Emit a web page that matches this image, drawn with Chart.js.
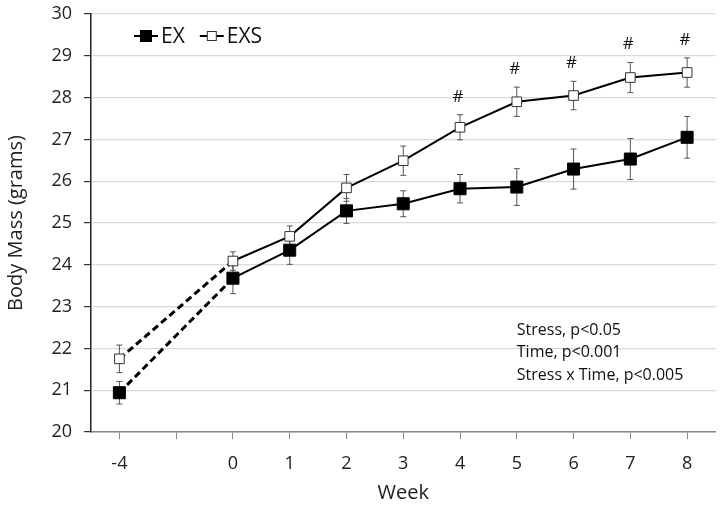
<!DOCTYPE html>
<html>
<head>
<meta charset="utf-8">
<script src="https://cdn.jsdelivr.net/npm/chart.js@4/dist/chart.umd.min.js"></script>
<style>
  html, body { margin: 0; padding: 0; background: #fff; }
  #wrap { width: 725px; height: 505px; }
</style>
</head>
<body>
<div id="wrap"><canvas id="c"></canvas></div>
<script>
// Week categories (empty slot keeps the gap between -4 and 0)
const weeks = ['-4', '', '0', '1', '2', '3', '4', '5', '6', '7', '8']
const exMass = [20.94, null, 23.68, 24.35, 25.29, 25.46, 25.82, 25.86, 26.29, 26.53, 27.05]
const exErr = [0.27, null, 0.37, 0.34, 0.30, 0.31, 0.34, 0.44, 0.48, 0.49, 0.50]
const exsMass = [21.75, null, 24.09, 24.68, 25.84, 26.49, 27.29, 27.90, 28.05, 28.48, 28.60]
const exsErr = [0.33, null, 0.22, 0.25, 0.32, 0.35, 0.30, 0.35, 0.34, 0.36, 0.35]
const sigMarks = ['', '', '', '', '', '', '#', '#', '#', '#', '#']
const yMin = 20
const yMax = 30
const statsText = ['Stress, p<0.05', 'Time, p<0.001', 'Stress x Time, p<0.005']

const FONT = "'Open Sans', sans-serif"

// dashed, thicker segment from week -4 to week 0 (spans the empty slot)
const isGapSeg = ctx => ctx.p1DataIndex <= 2
const segmentStyle = {
  borderDash: ctx => (isGapSeg(ctx) ? [7, 4] : undefined),
  borderWidth: ctx => (isGapSeg(ctx) ? 3 : 2),
}

const errorBars = {
  id: 'errorBars',
  beforeDatasetsDraw(chart) {
    const { ctx, scales: { x, y } } = chart
    const errs = [exErr, exsErr]
    ctx.save()
    ctx.strokeStyle = '#555'
    ctx.lineWidth = 1
    chart.data.datasets.forEach((ds, i) => {
      ds.data.forEach((v, j) => {
        const e = errs[i][j]
        if (v == null || e == null) return
        const px = x.getPixelForValue(j)
        const top = y.getPixelForValue(v + e)
        const bot = y.getPixelForValue(v - e)
        ctx.beginPath()
        ctx.moveTo(px, top); ctx.lineTo(px, bot)
        ctx.moveTo(px - 3, top); ctx.lineTo(px + 3, top)
        ctx.moveTo(px - 3, bot); ctx.lineTo(px + 3, bot)
        ctx.stroke()
      })
    })
    ctx.restore()
  },
}

const extras = {
  id: 'extras',
  afterDraw(chart) {
    const { ctx, chartArea, scales: { x, y } } = chart
    ctx.save()
    ctx.fillStyle = '#111'
    ctx.textAlign = 'center'
    ctx.textBaseline = 'middle'

    // significance marks above EXS error bars
    ctx.font = `17px ${FONT}`
    sigMarks.forEach((m, j) => {
      if (!m) return
      const top = y.getPixelForValue(exsMass[j] + exsErr[j])
      ctx.fillText(m, x.getPixelForValue(j) - 2, top - 18)
    })

    // stats text
    ctx.textAlign = 'left'
    ctx.font = `16px ${FONT}`
    const sx = x.getPixelForValue(weeks.indexOf('5'))
    let sy = y.getPixelForValue(22.43)
    statsText.forEach(t => {
      ctx.fillText(t, sx, sy)
      sy += 22.3
    })

    // legend
    const ly = chartArea.top + 22
    let lx = chartArea.left + 43
    const items = [
      { label: 'EX', fill: '#000', stroke: '#000', size: 11 },
      { label: 'EXS', fill: '#fff', stroke: '#333', size: 9 },
    ]
    ctx.font = `21px ${FONT}`
    items.forEach(it => {
      ctx.strokeStyle = '#000'
      ctx.lineWidth = 2
      ctx.beginPath()
      ctx.moveTo(lx, ly); ctx.lineTo(lx + 24, ly)
      ctx.stroke()
      ctx.fillStyle = it.fill
      ctx.strokeStyle = it.stroke
      ctx.lineWidth = 1
      ctx.fillRect(lx + 12 - it.size / 2, ly - it.size / 2, it.size, it.size)
      ctx.strokeRect(lx + 12 - it.size / 2, ly - it.size / 2, it.size, it.size)
      ctx.fillStyle = '#111'
      ctx.fillText(it.label, lx + 27, ly + 1)
      lx += 27 + ctx.measureText(it.label).width + 15
    })
    ctx.restore()
  },
}

new Chart(document.getElementById('c').getContext('2d'), {
  type: 'line',
  data: {
    labels: weeks,
    datasets: [
      {
        label: 'EX',
        data: exMass,
        borderColor: '#000',
        borderWidth: 2,
        pointStyle: 'rect',
        pointRadius: 8.5,
        pointBackgroundColor: '#000',
        pointBorderColor: '#000',
        pointBorderWidth: 1,
        spanGaps: true,
        tension: 0,
        segment: segmentStyle,
      },
      {
        label: 'EXS',
        data: exsMass,
        borderColor: '#000',
        borderWidth: 2,
        pointStyle: 'rect',
        pointRadius: 6.8,
        pointBackgroundColor: '#fff',
        pointBorderColor: '#333',
        pointBorderWidth: 1,
        spanGaps: true,
        tension: 0,
        segment: segmentStyle,
      },
    ],
  },
  options: {
    responsive: true,
    maintainAspectRatio: false,
    animation: false,
    layout: { padding: { top: 14, right: 5, bottom: 0, left: 0 } },
    plugins: {
      legend: { display: false },
      tooltip: { enabled: false },
    },
    scales: {
      x: {
        offset: true,
        afterFit: scale => { scale.height = 73 },
        grid: {
          offset: false,
          drawOnChartArea: false,
          tickLength: 7,
          tickColor: '#888',
        },
        border: { color: '#888', width: 1.5 },
        ticks: {
          color: '#222',
          padding: 14,
          maxRotation: 0,
          autoSkip: false,
          font: { size: 18, family: FONT },
        },
        title: {
          display: true,
          text: 'Week',
          color: '#222',
          padding: { top: 0, bottom: 0 },
          font: { size: 20, family: FONT },
        },
      },
      y: {
        min: yMin,
        max: yMax,
        afterFit: scale => {
          scale.width = 91
          scale.paddingTop = 0
          scale.paddingBottom = 0
        },
        grid: {
          color: '#d9d9d9',
          lineWidth: 1.2,
          tickLength: 7,
          tickColor: '#333',
        },
        border: { color: '#222', width: 1.5 },
        ticks: {
          stepSize: 1,
          color: '#222',
          padding: 12,
          font: { size: 18, family: FONT },
        },
        title: {
          display: true,
          text: 'Body Mass (grams)',
          color: '#222',
          padding: { top: 4, bottom: 0 },
          font: { size: 20, family: FONT },
        },
      },
    },
  },
  plugins: [errorBars, extras],
})
</script>
</body>
</html>
